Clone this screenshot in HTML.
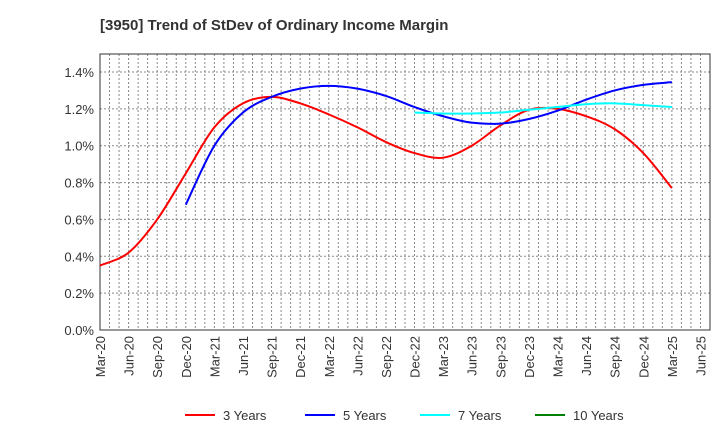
<!DOCTYPE html>
<html><head><meta charset="utf-8"><style>
body{margin:0;background:#fff;font-family:"Liberation Sans",sans-serif}
</style></head><body>
<svg id="c" width="720" height="440" xmlns="http://www.w3.org/2000/svg" font-family="Liberation Sans, sans-serif"></svg>
<script>
const categories=["Mar-20","Jun-20","Sep-20","Dec-20","Mar-21","Jun-21","Sep-21","Dec-21","Mar-22","Jun-22","Sep-22","Dec-22","Mar-23","Jun-23","Sep-23","Dec-23","Mar-24","Jun-24","Sep-24","Dec-24","Mar-25","Jun-25"];
const yTicks=[0,0.2,0.4,0.6,0.8,1.0,1.2,1.4];
const s3=[0.35,0.42,0.6,0.85,1.1,1.23,1.265,1.23,1.17,1.1,1.02,0.96,0.935,1.0,1.11,1.195,1.2,1.16,1.09,0.96,0.77];
const s5=[null,null,null,0.68,1.0,1.18,1.265,1.31,1.325,1.31,1.27,1.21,1.16,1.125,1.12,1.145,1.19,1.25,1.3,1.33,1.345];
const s7=[null,null,null,null,null,null,null,null,null,null,null,1.18,1.175,1.175,1.18,1.195,1.21,1.225,1.23,1.22,1.21];
const s10=[];
const L=100,R=710,T=54,B=330,monthPx=(R-L)/64;
const x=i=>L+i*3*monthPx, y=v=>B-v/1.4*(B-72);
const svg=document.getElementById('c');const NS="http://www.w3.org/2000/svg";
function mk(t,a,p){const e=document.createElementNS(NS,t);for(const k in a)e.setAttribute(k,a[k]);(p||svg).appendChild(e);return e;}
const t=mk('text',{x:100,y:30,'font-size':15,'font-weight':'bold',fill:'#333'});t.textContent="[3950]  Trend of StDev of Ordinary Income Margin";

for(let m=1;m<64;m++){const g=mk('line',{x1:L+m*monthPx,x2:L+m*monthPx,y1:T,y2:B,stroke:'#888','stroke-dasharray':'2,2','stroke-width':1});}
yTicks.forEach(v=>{const g=mk('line',{x1:L,x2:R,y1:y(v),y2:y(v),stroke:'#888','stroke-dasharray':'2,2'});
const l=mk('text',{x:L-6,y:y(v)+5,'text-anchor':'end','font-size':13,fill:'#333'});l.textContent=v.toFixed(1)+'%';});
categories.forEach((c,i)=>{const l=mk('text',{transform:`translate(${x(i)+5},${B+6}) rotate(-90)`,'text-anchor':'end','font-size':13,fill:'#333'});l.textContent=c;});
const f=mk('rect',{x:L,y:T,width:R-L,height:B-T,fill:'none',stroke:'#333'});
function path(arr){const p=[];arr.forEach((v,i)=>{if(v!=null)p.push([x(i),y(v)]);});if(p.length<2)return '';
let d=`M${p[0][0]},${p[0][1]}`;for(let i=0;i<p.length-1;i++){const p0=p[i-1]||p[i],p1=p[i],p2=p[i+1],p3=p[i+2]||p2;
d+=`C${p1[0]+(p2[0]-p0[0])/6},${p1[1]+(p2[1]-p0[1])/6} ${p2[0]-(p3[0]-p1[0])/6},${p2[1]-(p3[1]-p1[1])/6} ${p2[0]},${p2[1]}`;}return d;}
const series=[[s3,'#ff0000','3 Years','series-3-years'],[s5,'#0000ff','5 Years','series-5-years'],[s7,'#00ffff','7 Years','series-7-years'],[s10,'#008000','10 Years','series-10-years']];
series.forEach(([a,c,n,nm],k)=>{const d=path(a);if(d){const e=mk('path',{d,fill:'none',stroke:c,'stroke-width':2});}
const lx=[185,305,420,535][k];const g=mk('g',{});
mk('line',{x1:lx,x2:lx+30,y1:415,y2:415,stroke:c,'stroke-width':2},g);const tx=mk('text',{x:lx+38,y:420,'font-size':13,fill:'#333'},g);tx.textContent=n;});
</script></body></html>
